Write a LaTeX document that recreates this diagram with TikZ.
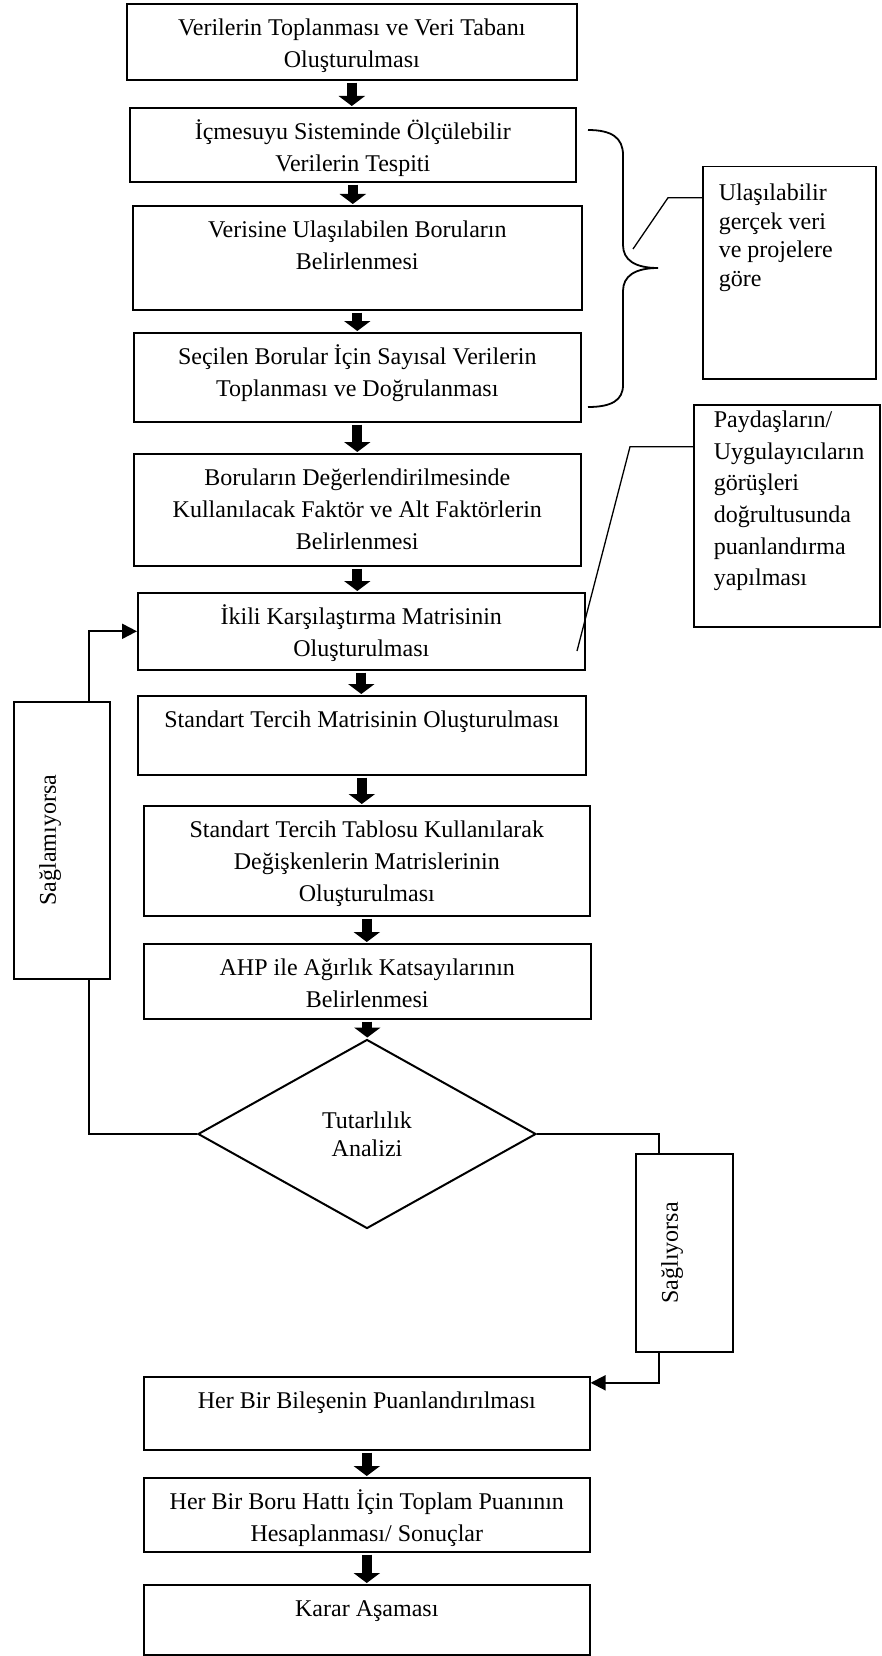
\documentclass[tikz,border=0pt]{standalone}
\usepackage{fontspec}
\setmainfont{Liberation Serif}
\usepackage{graphicx}
\usetikzlibrary{arrows.meta,shapes.geometric}

\newcommand{\boxtext}[3]{\parbox[c][#2pt][t]{#1pt}{\centering\rule{0pt}{32pt}#3}}
\newcommand{\sidetext}[3]{\rotatebox{90}{\parbox[c][#2pt][t]{#1pt}{\centering\rule{0pt}{42pt}#3}}}

\begin{document}
\begin{tikzpicture}[x=1pt,y=-1pt,font=\fontsize{24}{32}\selectfont,
    stage/.style={draw,line width=1.6pt,inner sep=0pt,anchor=north west},
    note/.style={draw,line width=1.5pt,inner sep=0pt,anchor=north west},
    decision/.style={diamond,draw,line width=2pt,inner sep=0pt,
      minimum width=338pt,minimum height=189pt,align=center,
      font=\fontsize{24}{28}\selectfont},
    flow/.style={-{Triangle[width=26pt,length=10pt]},line width=10pt,
      shorten <=2pt,shorten >=1pt},
    link/.style={line width=2pt},
    arrowin/.style={-{Triangle[width=15pt,length=15pt]}}]

  \useasboundingbox (0,0) rectangle (881,1656);

  \node[stage] (b1) at (126,3)    {\boxtext{450}{76}{Verilerin Toplanması ve Veri Tabanı\\Oluşturulması}};
  \node[stage] (b2) at (129,107)  {\boxtext{446}{74}{İçmesuyu Sisteminde Ölçülebilir\\Verilerin Tespiti}};
  \node[stage] (b3) at (132,205)  {\boxtext{449}{104}{Verisine Ulaşılabilen Boruların\\Belirlenmesi}};
  \node[stage] (b4) at (133,332)  {\boxtext{447}{89}{Seçilen Borular İçin Sayısal Verilerin\\Toplanması ve Doğrulanması}};
  \node[stage] (b5) at (133,453)  {\boxtext{447}{112}{Boruların Değerlendirilmesinde\\Kullanılacak Faktör ve Alt Faktörlerin\\Belirlenmesi}};
  \node[stage] (b6) at (137,592)  {\boxtext{447}{77}{İkili Karşılaştırma Matrisinin\\Oluşturulması}};
  \node[stage] (b7) at (137,695)  {\boxtext{448}{79}{Standart Tercih Matrisinin Oluşturulması}};
  \node[stage] (b8) at (143,805)  {\boxtext{446}{110}{Standart Tercih Tablosu Kullanılarak\\Değişkenlerin Matrislerinin\\Oluşturulması}};
  \node[stage] (b9) at (143,943)  {\boxtext{447}{75}{AHP ile Ağırlık Katsayılarının\\Belirlenmesi}};
  \node[decision] (d) at (367,1134) {Tutarlılık\\Analizi};
  \node[stage] (b10) at (143,1376) {\boxtext{446}{73}{Her Bir Bileşenin Puanlandırılması}};
  \node[stage] (b11) at (143,1477) {\boxtext{446}{74}{Her Bir Boru Hattı İçin Toplam Puanının\\Hesaplanması/ Sonuçlar}};
  \node[stage] (b12) at (143,1584) {\boxtext{446}{70}{Karar Aşaması}};

  \node[stage] (no)  at (13,701)   {\sidetext{277}{96}{Sağlamıyorsa}};
  \node[stage] (yes) at (635,1153) {\sidetext{198}{97}{Sağlıyorsa}};

  \node[note] (n1) at (702,166) {\parbox[c][212pt][t]{173pt}{\fontsize{24}{28.5}\selectfont
    \raggedright\leftskip=16pt\rule{0pt}{34pt}Ulaşılabilir\\gerçek veri\\ve projelere\\göre}};
  \node[note] (n2) at (693,404) {\parbox[c][222pt][t]{186pt}{\fontsize{24}{31.6}\selectfont
    \raggedright\leftskip=20pt\rule{0pt}{23pt}Paydaşların/\\Uygulayıcıların\\görüşleri\\doğrultusunda\\puanlandırma\\yapılması}};

  \path (b1.south) edge[flow] (b1.south |- b2.north)
        (b2.south) edge[flow] (b2.south |- b3.north)
        (b3.south) edge[flow] (b3.south |- b4.north)
        (b4.south) edge[flow] (b4.south |- b5.north)
        (b5.south) edge[flow] (b5.south |- b6.north)
        (b6.south) edge[flow] (b6.south |- b7.north)
        (b7.south) edge[flow] (b7.south |- b8.north)
        (b8.south) edge[flow] (b8.south |- b9.north)
        (b9.south) edge[flow] (b9.south |- d.north)
        (b10.south) edge[flow] (b10.south |- b11.north)
        (b11.south) edge[flow] (b11.south |- b12.north);

  % geri besleme
  \draw[link] (d.west) -| ([xshift=27pt]no.south);
  \draw[link,arrowin] ([xshift=27pt]no.north) |- (b6.west);
  \draw[link] (d.east) -| ([xshift=-25.5pt]yes.north);
  \draw[link,arrowin] ([xshift=-25.5pt]yes.south) |- ([yshift=30.5pt]b10.east);

  % notlar
  \draw[line width=1.8pt] (588,130) .. controls (612,130) and (623,138) .. (623,155)
    -- (623,245) .. controls (623,260) and (635,268) .. (658,268)
    .. controls (635,268) and (623,276) .. (623,291)
    -- (623,385) .. controls (623,400) and (612,407) .. (588,407);
  \coordinate (c1) at (633,249);
  \draw[line width=1.3pt] ([yshift=75pt]n1.west) -- ++(-34,0) -- (c1);
  \coordinate (c2) at (577,651);
  \draw[line width=1.3pt] ([yshift=69pt]n2.west) -- ++(-63,0) -- (c2);
\end{tikzpicture}
\end{document}
